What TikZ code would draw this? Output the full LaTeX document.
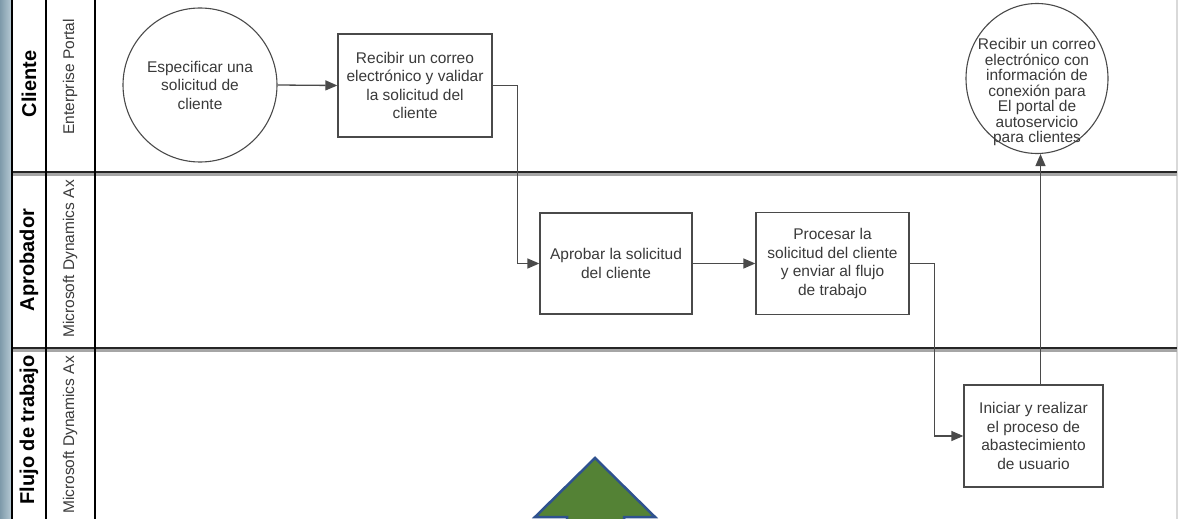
\documentclass[tikz,border=0pt]{standalone}
\usepackage{fontspec}
\setmainfont{Liberation Sans}
\usetikzlibrary{arrows.meta,calc,shapes.geometric}
\definecolor{txt}{HTML}{3A3A3A}
\definecolor{boxline}{HTML}{4A4A4A}
\definecolor{greenfill}{HTML}{548235}
\definecolor{blueedge}{HTML}{2F528F}
\definecolor{stripL}{HTML}{7E9AAA}
\definecolor{stripR}{HTML}{B9CCD6}
\tikzset{
  boxtext/.style={font=\fontsize{15.5}{18.5}\selectfont, text=txt, align=center},
  procbox/.style={boxtext, draw=boxline, line width=1.3pt, rectangle, inner sep=0pt},
  evcircle/.style={boxtext, draw=boxline, line width=1.1pt, circle, inner sep=0pt},
  lanename/.style={font=\fontsize{20}{24}\bfseries\selectfont, rotate=90, text=black},
  sysname/.style={font=\fontsize{15.5}{18}\selectfont, rotate=90, text=txt},
  conn/.style={draw=boxline, line width=1.3pt, -{Triangle[length=12pt,width=10pt]}},
  laneline/.style={line width=2.2pt, draw=black!85},
  laneshadow/.style={line width=5pt, draw=black!35},
  colline/.style={line width=1.3pt, draw=black},
}
\begin{document}
\begin{tikzpicture}[x=1pt,y=-1pt]
\useasboundingbox (0,0) rectangle (1179,519);
\fill[white] (0,0) rectangle (1179,519);
% left strip
\shade[left color=stripL, right color=stripR] (0,0) rectangle (12,519);
% right light edge
\draw[line width=2pt, draw=black!15] (1177,0) -- (1177,519);
% lane lines
\draw[laneshadow] (12,173) -- (1177,173);
\draw[laneline] (12,172) -- (1177,172);
\draw[laneshadow] (12,349) -- (1177,349);
\draw[laneline] (12,348) -- (1177,348);
% column lines
\draw[colline] (12,0) -- (12,519);
\draw[colline] (46,0) -- (46,519);
\draw[colline] (95,0) -- (95,519);
% lane headers
\node[lanename] (l1) at (29,84) {Cliente};
\node[sysname] (s1) at (70,77) {Enterprise Portal};
\node[lanename] (l2) at (29,260) {Aprobador};
\node[sysname] (s2) at (70,259) {Microsoft Dynamics Ax};
\node[lanename] (l3) at (29,430) {Flujo de trabajo};
\node[sysname] (s3) at (70,435) {Microsoft Dynamics Ax};
% nodes
\node[evcircle, minimum size=154pt] (c1) at (200,85) {Especificar una\\solicitud de\\cliente};
\node[procbox, minimum width=154pt, minimum height=103pt] (b1) at (415,85.5) {Recibir un correo\\electrónico y validar\\la solicitud del\\cliente};
\node[procbox, minimum width=152pt, minimum height=101pt] (b2) at (616,263.5) {Aprobar la solicitud\\del cliente};
\node[procbox, minimum width=153pt, minimum height=102pt] (b3) at (832.5,263.5) {Procesar la\\solicitud del cliente\\y enviar al flujo\\de trabajo};
\node[procbox, minimum width=139pt, minimum height=102pt] (b4) at (1033.5,436) {Iniciar y realizar\\el proceso de\\abastecimiento\\de usuario};
\node[evcircle, ellipse, font=\fontsize{15.5}{15.5}\selectfont, inner sep=-30pt, minimum width=142pt, minimum height=150pt] (c2) at (1037,78.5) {\rule{0pt}{39pt}Recibir un correo\\electrónico con\\información de\\conexión para\\El portal de\\autoservicio\\para clientes};
% connectors
\draw[conn] (c1.east) -- (b1.west);
\draw[conn] (b1.east) -- ++(25,0) |- (b2.west);
\draw[conn] (b2.east) -- (b3.west);
\draw[conn] (b3.east) -- ++(25,0) |- (b4.west);
\draw[conn] ([xshift=7pt]b4.north) -- ([xshift=7pt]b4.north |- c2.south);
% green arrow
\begin{scope}
\clip (0,0) rectangle (1179,519);
\draw[fill=greenfill, draw=blueedge, line width=2.5pt, line join=miter]
  (595,458) -- (655,517) -- (624,517) -- (624,540) -- (567,540) -- (567,517) -- (535,517) -- cycle;
\end{scope}
\end{tikzpicture}
\end{document}
